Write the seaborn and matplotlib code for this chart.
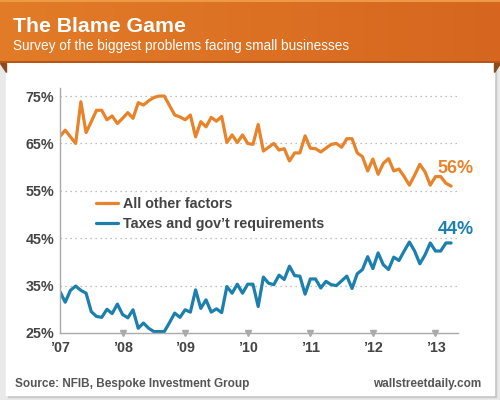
import matplotlib
matplotlib.use("Agg")
import matplotlib.pyplot as plt
import matplotlib.patches as mpatches
from matplotlib.colors import LinearSegmentedColormap
import numpy as np
import pandas as pd
import seaborn as sns

# monthly survey shares, Jan 2007 .. Apr 2013 (%)
other_factors = [66.5, 67.8, 66.4, 65, 73.8, 67.3, 69.6, 72, 72, 70, 70.8, 69.2,
                 70.3, 71.5, 70.3, 73.6, 73.1, 74, 74.7, 75, 75, 73, 71, 70.6,
                 70, 71, 66.4, 69.6, 68.5, 70.5, 69.7, 70.7, 65.2, 66.8, 65.2, 66.8,
                 65, 64.8, 69, 63.4, 64.2, 65, 63.6, 63.9, 61.3, 63, 63, 66.6,
                 64, 63.9, 63.2, 64, 64.8, 65, 64.2, 66, 66, 63, 62.2, 59.2,
                 61.7, 58.5, 60.8, 61.8, 59.2, 59.6, 58, 56.2, 58.3, 60.6, 59, 56.2,
                 58, 58, 56.6, 56]
taxes_gov = [33.7, 31.5, 34, 34.9, 34, 33.4, 29.5, 28.5, 28.3, 30, 29.1, 31.1,
             28.9, 28.2, 29.9, 26, 27.1, 26, 25.3, 25.3, 25.3, 27.2, 29.2, 28.3,
             29.9, 29.4, 34.1, 30.2, 32, 29.4, 30.1, 29.3, 34.8, 33.4, 35.3, 33.4,
             35.3, 35.3, 30.6, 36.8, 35.5, 35.2, 37.2, 36.3, 39.1, 37.1, 37, 33.2,
             36.4, 36.4, 34.5, 35.9, 35.2, 35, 36, 37, 34.4, 37.5, 38.4, 41.1,
             38.6, 41.9, 39.4, 38.4, 41, 40.3, 42.3, 44.2, 42.3, 39.6, 41.5, 44,
             42.3, 42.3, 44, 44]
start_year = 2007
year_ticks = [2007, 2008, 2009, 2010, 2011, 2012, 2013]
year_labels = ["\u201907", "\u201908", "\u201909", "\u201910", "\u201911", "\u201912", "\u201913"]
pct_ticks = [25, 35, 45, 55, 65, 75]
series_names = ["All other factors", "Taxes and gov\u2019t requirements"]

ORANGE = "#E8832A"
BLUE = "#1B80AE"
TEXT = "#444444"

months = start_year + np.arange(len(other_factors)) / 12
df = pd.DataFrame({
    "year": np.concatenate([months, months]),
    "pct": other_factors + taxes_gov,
    "series": [series_names[0]] * len(other_factors) + [series_names[1]] * len(taxes_gov),
})

sns.set_theme(style="white")
plt.rcParams["font.family"] = ["Liberation Sans", "DejaVu Sans"]

fig = plt.figure(figsize=(5, 4), dpi=100)
fig.patch.set_facecolor("#E9E9E9")

# white card with soft shadow
fig.patches.append(mpatches.Rectangle((8 / 500, 3 / 400), 488 / 500, 335 / 400,
                                      transform=fig.transFigure, color="#C8C8C8", zorder=-2))
fig.patches.append(mpatches.Rectangle((6 / 500, 5 / 400), 488 / 500, 335 / 400,
                                      transform=fig.transFigure, color="white", zorder=-1))

# header band with gradient
hax = fig.add_axes([0, 337 / 400, 1, 63 / 400], zorder=1)
grad = np.linspace(0, 1, 256).reshape(1, -1)
cmap = LinearSegmentedColormap.from_list("hdr", ["#E27C28", "#D6661F"])
hax.imshow(grad, aspect="auto", cmap=cmap, extent=[0, 1, 0, 1])
hax.axhline(0.02, color="#B8561A", lw=1.5)
hax.axhline(0.99, color="#EE9A45", lw=1.5)
hax.set_axis_off()
# ribbon folds
for xs in ([0, 6 / 500, 6 / 500], [1, 494 / 500, 494 / 500]):
    fig.patches.append(mpatches.Polygon(list(zip(xs, [337 / 400, 337 / 400, 328 / 400])),
                                        closed=True, transform=fig.transFigure,
                                        color="#8E4A1C", zorder=-0.5))

fig.text(13 / 500, 1 - 32 / 400, "The Blame Game", color="white", fontsize=15.3,
         fontweight="bold", va="baseline", zorder=3)
fig.text(13 / 500, 1 - 50 / 400, "Survey of the biggest problems facing small businesses",
         color="white", fontsize=9.8, va="baseline", zorder=3)

ax = fig.add_axes([60 / 500, 67 / 400, 398 / 500, 245 / 400], zorder=2)
ax.set_facecolor("none")
sns.lineplot(data=df, x="year", y="pct", hue="series", palette=[ORANGE, BLUE],
             linewidth=2.3, ax=ax, legend=True)
ax.set_xlim(start_year, 2013.36)
ax.set_ylim(25, 76.7)
ax.set_yticks(pct_ticks)
ax.set_yticklabels([f"{v}%" for v in pct_ticks])
ax.set_xticks(year_ticks)
ax.set_xticklabels(year_labels)
ax.set_xlabel("")
ax.set_ylabel("")
for v in pct_ticks[1:]:
    ax.axhline(v, color="#AAAAAA", lw=0.9, ls=(0, (1, 3)), zorder=0)
for s in ["top", "right"]:
    ax.spines[s].set_visible(False)
for s in ["left", "bottom"]:
    ax.spines[s].set_color("#AAAAAA")
    ax.spines[s].set_linewidth(1)
ax.tick_params(axis="both", length=0, labelsize=10.3, labelcolor=TEXT)
ax.tick_params(axis="x", pad=6)
ax.tick_params(axis="y", pad=4)
for lab in ax.get_xticklabels() + ax.get_yticklabels():
    lab.set_fontweight("bold")
ax.plot(year_ticks[1:], [25] * (len(year_ticks) - 1), "v", color="#AAAAAA", ms=4,
        clip_on=False, zorder=5)
ax.set_ylim(25, 76.7)

leg = ax.legend(loc="upper left", bbox_to_anchor=(0.075, 0.58), frameon=False,
                handlelength=1.6, handletextpad=0.3, labelspacing=0.45,
                borderaxespad=0, prop={"weight": "bold", "size": 10.3})
for t in leg.get_texts():
    t.set_color(TEXT)
for h in leg.get_lines():
    h.set_linewidth(2.3)

ax.annotate(f"{other_factors[-1]:.0f}%", (months[-1], other_factors[-1]), xytext=(-9.5, 13),
            textcoords="offset points", color=ORANGE, fontsize=13, fontweight="bold",
            va="center", ha="left", annotation_clip=False)
ax.annotate(f"{taxes_gov[-1]:.0f}%", (months[-1], taxes_gov[-1]), xytext=(-9.5, 10),
            textcoords="offset points", color=BLUE, fontsize=13, fontweight="bold",
            va="center", ha="left", annotation_clip=False)

fig.text(15 / 500, 1 - 384 / 400, "Source: NFIB, Bespoke Investment Group", color="#555555",
         fontsize=8.5, fontweight="bold", va="center")
fig.text(481 / 500, 1 - 384 / 400, "wallstreetdaily.com", color="#555555",
         fontsize=8.5, fontweight="bold", va="center", ha="right")

fig.savefig("out.png", dpi=100, facecolor=fig.get_facecolor())
